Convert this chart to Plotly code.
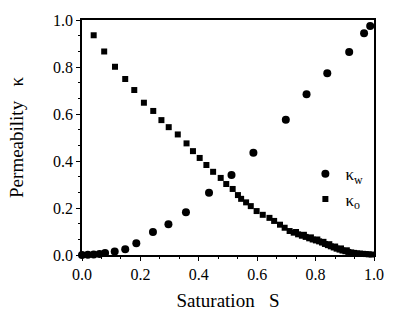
import plotly.graph_objects as go

# kappa_w (circles)
sw = [0.0, 0.02, 0.04, 0.06, 0.079, 0.112, 0.148, 0.186, 0.243, 0.296, 0.356,
      0.435, 0.512, 0.587, 0.698, 0.769, 0.840, 0.915, 0.966, 0.987]
kw = [0.0, 0.001, 0.002, 0.004, 0.008, 0.015, 0.025, 0.050, 0.098, 0.131, 0.182,
      0.265, 0.340, 0.435, 0.576, 0.684, 0.773, 0.864, 0.944, 0.975]

# kappa_o (squares)
so = [0.040, 0.076, 0.113, 0.148, 0.179, 0.212, 0.244, 0.272, 0.297, 0.328, 0.358,
      0.380, 0.403, 0.426, 0.449, 0.475, 0.494, 0.516, 0.534, 0.545, 0.562, 0.578,
      0.598, 0.619, 0.642, 0.658, 0.678, 0.694, 0.711, 0.725, 0.740, 0.753, 0.766,
      0.778, 0.790, 0.801, 0.812, 0.822, 0.832, 0.842, 0.852, 0.862, 0.872, 0.882,
      0.892, 0.902, 0.912, 0.922, 0.932, 0.942, 0.952, 0.962, 0.972, 0.982, 0.992,
      0.733, 0.760, 0.784, 0.806, 0.827, 0.847, 0.867, 0.887, 0.907]
ko = [0.935, 0.866, 0.801, 0.749, 0.702, 0.648, 0.613, 0.574, 0.544, 0.513, 0.475,
      0.442, 0.413, 0.383, 0.354, 0.328, 0.302, 0.281, 0.255, 0.239, 0.224, 0.208,
      0.187, 0.171, 0.158, 0.145, 0.129, 0.116, 0.102, 0.095, 0.088, 0.082, 0.077,
      0.071, 0.066, 0.062, 0.058, 0.053, 0.047, 0.042, 0.037, 0.032, 0.027, 0.023,
      0.019, 0.016, 0.013, 0.011, 0.009, 0.007, 0.006, 0.005, 0.004, 0.003, 0.002,
      0.098, 0.086, 0.075, 0.066, 0.056, 0.046, 0.036, 0.028, 0.020]

ticks = [0.0, 0.2, 0.4, 0.6, 0.8, 1.0]
tick_text = ["0.0", "0.2", "0.4", "0.6", "0.8", "1.0"]

font = "Liberation Serif, Times New Roman, serif"

fig = go.Figure()
fig.add_trace(go.Scatter(x=sw, y=kw, mode="markers", name="κ<sub>w</sub>",
                         marker=dict(symbol="circle", size=8, color="black"),
                         cliponaxis=False))
fig.add_trace(go.Scatter(x=so, y=ko, mode="markers", name="κ<sub>o</sub>",
                         marker=dict(symbol="square", size=6, color="black"),
                         cliponaxis=False))

axis_common = dict(
    showgrid=False, zeroline=False, showline=True, linecolor="black", linewidth=1.5,
    mirror=True, ticks="outside", ticklen=4, tickwidth=1, tickcolor="black",
    tickvals=ticks, ticktext=tick_text,
    minor=dict(ticks="outside", ticklen=2, dtick=0.2 / 3, tickcolor="black"),
    tickfont=dict(family=font, size=16, color="black"),
)

fig.update_xaxes(range=[0, 1], **axis_common,
                 title=dict(text="Saturation\u00a0\u00a0 S", font=dict(family=font, size=19, color="black"),
                            standoff=12))
fig.update_yaxes(range=[0, 1], **axis_common,
                 title=dict(text="Permeability\u00a0\u00a0 κ", font=dict(family=font, size=19, color="black"),
                            standoff=24))

fig.update_layout(
    width=396, height=320,
    margin=dict(l=82, r=12, t=12, b=53),
    paper_bgcolor="white", plot_bgcolor="white",
    legend=dict(x=0.765, y=0.42, xanchor="left", yanchor="top", bgcolor="rgba(0,0,0,0)",
                font=dict(family=font, size=17, color="black"),
                itemwidth=30, tracegroupgap=0),
)

fig.write_html("out.html")
